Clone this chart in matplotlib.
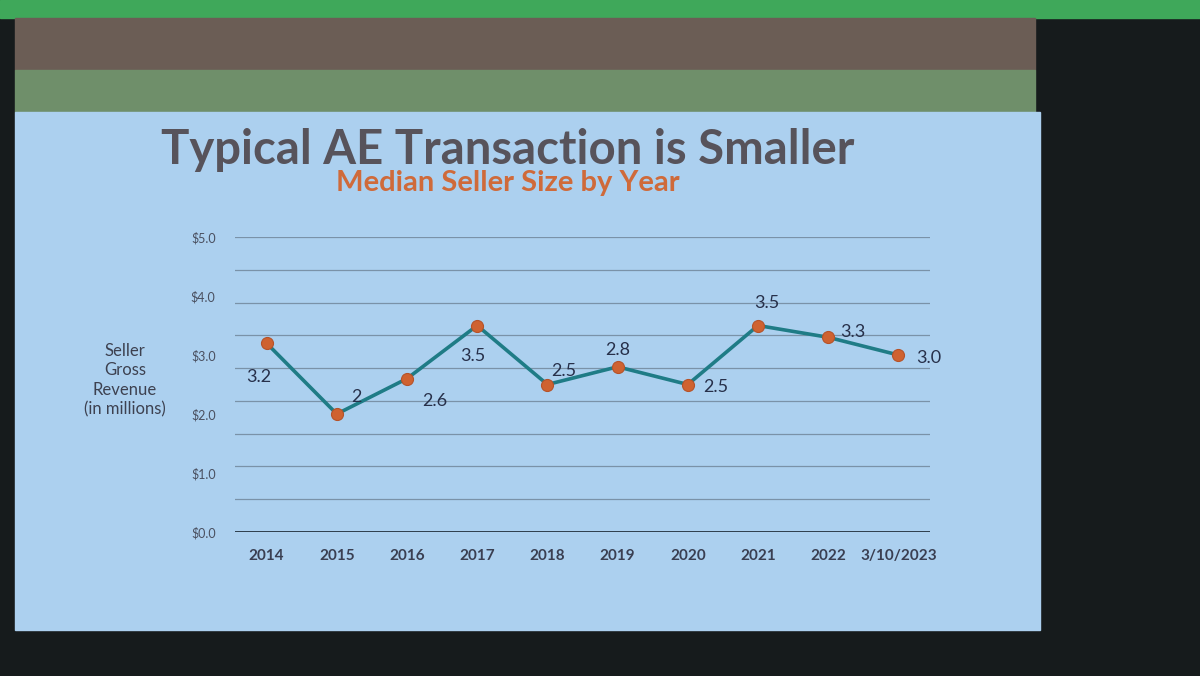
import numpy as np
import matplotlib.pyplot as plt
from matplotlib.patches import Rectangle

# du lieu
categories = ['2014', '2015', '2016', '2017', '2018', '2019', '2020', '2021', '2022', '3/10/2023']
values = [3.2, 2.0, 2.6, 3.5, 2.5, 2.8, 2.5, 3.5, 3.3, 3.0]
value_labels = ['3.2', '2', '2.6', '3.5', '2.5', '2.8', '2.5', '3.5', '3.3', '3.0']
ytick_vals = [0, 1, 2, 3, 4, 5]
ytick_labels = ['$0.0', '$1.0', '$2.0', '$3.0', '$4.0', '$5.0']

# vi tri nhan (pixel offset)
label_offsets = [(-6, -24), (14, 12), (20, -16), (-3, -22), (12, 10), (0, 12),
                 (20, -2), (6, 16), (18, 4), (22, -2)]

plt.rcParams['font.family'] = ['Lato', 'DejaVu Sans']

fig = plt.figure(figsize=(12, 6.76), dpi=100)
fig.patch.set_facecolor('#161b1c')

# khung slide
fig.add_artist(Rectangle((0, 1 - 18/676), 1, 18/676, transform=fig.transFigure, color='#3fa85a', zorder=0))
fig.add_artist(Rectangle((15/1200, 1 - 70/676), 1020/1200, 52/676, transform=fig.transFigure, color='#6b5d55', zorder=0))
fig.add_artist(Rectangle((15/1200, 1 - 112/676), 1020/1200, 42/676, transform=fig.transFigure, color='#6f8f6a', zorder=0))
fig.add_artist(Rectangle((15/1200, 1 - 630/676), 1025/1200, 518/676, transform=fig.transFigure, color='#acd0ef', zorder=0))

ax = fig.add_axes([235/1200, 1 - 532/676, 695/1200, 295/676])
ax.set_facecolor('none')

x = np.arange(len(categories))
for g in np.linspace(0, 5, 10)[1:]:
    ax.axhline(g, color='#7a92a8', lw=0.9, zorder=1)
ax.axhline(0, color='#2d3e4c', lw=1.4, zorder=1)

ax.plot(x, values, color='#1f7c86', lw=2.6, zorder=2)
ax.scatter(x, values, s=75, color='#cf6230', edgecolor='#b5532a', linewidth=0.8, zorder=3)

for xi, v, lab, off in zip(x, values, value_labels, label_offsets):
    ax.annotate(lab, (xi, v), xytext=off, textcoords='offset points',
                ha='center', va='center', fontsize=13, color='#27304a')

ax.set_xlim(-0.45, 9.45)
ax.set_ylim(0, 5)
ax.set_xticks(x)
ax.set_xticklabels(categories, fontsize=11, color='#3a3f52', fontweight='bold')
ax.set_yticks(ytick_vals)
ax.set_yticklabels(ytick_labels, fontsize=9, color='#4a5060')
ax.tick_params(length=0, pad=12)
ax.tick_params(axis='y', pad=14)
for s in ax.spines.values():
    s.set_visible(False)

fig.text(125/1200, 1 - 380/676, 'Seller\nGross\nRevenue\n(in millions)', ha='center', va='center',
         fontsize=12, color='#3d4150', linespacing=1.25)

fig.text(508/1200, 1 - 150/676, 'Typical AE Transaction is Smaller', ha='center', va='center',
         fontsize=34, fontweight='bold', color='#57535b')
fig.text(508/1200, 1 - 183/676, 'Median Seller Size by Year', ha='center', va='center',
         fontsize=21, fontweight='bold', color='#cf6a3a')

fig.savefig('out.png', dpi=100, facecolor=fig.get_facecolor())
